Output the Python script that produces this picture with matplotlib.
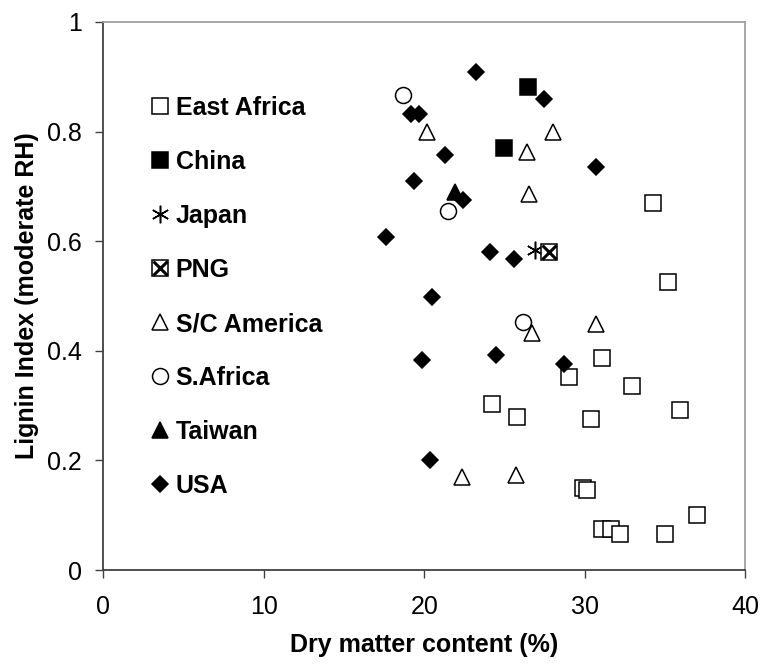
import matplotlib
matplotlib.use("Agg")
import matplotlib.pyplot as plt
from matplotlib.legend_handler import HandlerTuple

plt.rcParams['font.family'] = ['Liberation Sans', 'DejaVu Sans']

# Data (Dry matter content %, Lignin Index)
ea_x = [34.25, 35.2, 31.07, 29.0, 32.94, 24.24, 25.78, 30.38, 35.9, 29.89, 30.14, 31.05, 31.63, 32.19, 35.0, 37.0]
ea_y = [0.670, 0.526, 0.387, 0.352, 0.335, 0.303, 0.280, 0.275, 0.292, 0.150, 0.146, 0.075, 0.075, 0.065, 0.065, 0.100]
china_x = [26.44, 24.94]
china_y = [0.882, 0.770]
japan_x = [26.9]
japan_y = [0.584]
png_x = [27.79]
png_y = [0.580]
sca_x = [20.15, 28.04, 26.38, 26.52, 26.73, 30.67, 22.35, 25.73]
sca_y = [0.800, 0.800, 0.762, 0.686, 0.433, 0.449, 0.170, 0.174]
saf_x = [18.7, 21.5, 26.13]
saf_y = [0.867, 0.655, 0.453]
taiwan_x = [21.92]
taiwan_y = [0.689]
usa_x = [23.25, 27.46, 19.2, 19.65, 21.3, 19.38, 30.7, 22.4, 17.62, 24.1, 25.6, 20.5, 19.88, 24.49, 28.7, 20.36]
usa_y = [0.909, 0.859, 0.832, 0.832, 0.758, 0.709, 0.735, 0.675, 0.608, 0.580, 0.567, 0.498, 0.383, 0.392, 0.376, 0.200]

x_ticks = [0, 10, 20, 30, 40]
x_ticklabels = ['0', '10', '20', '30', '40']
y_ticks = [0, 0.2, 0.4, 0.6, 0.8, 1.0]
y_ticklabels = ['0', '0.2', '0.4', '0.6', '0.8', '1']

fig = plt.figure(figsize=(7.63, 6.66), dpi=100)
ax = fig.add_axes([0.135, 0.144, 0.842, 0.823])

ms = 11.5
lw = 1.1
h_ea, = ax.plot(ea_x, ea_y, 's', ms=ms, mfc='white', mec='black', mew=lw, ls='none', zorder=3)
h_ch, = ax.plot(china_x, china_y, 's', ms=ms, mfc='black', mec='black', mew=lw, ls='none', zorder=3)
h_jp, = ax.plot(japan_x, japan_y, marker=(6, 2, 0), ms=ms * 1.1, mfc='none', mec='black', mew=1.1, ls='none', zorder=3)
h_png1, = ax.plot(png_x, png_y, 's', ms=ms, mfc='white', mec='black', mew=lw, ls='none', zorder=3)
h_png2, = ax.plot(png_x, png_y, 'x', ms=ms * 0.9, mec='black', mew=2.2, ls='none', zorder=5)
h_sca, = ax.plot(sca_x, sca_y, '^', ms=ms, mfc='white', mec='black', mew=lw, ls='none', zorder=3)
h_saf, = ax.plot(saf_x, saf_y, 'o', ms=ms, mfc='white', mec='black', mew=lw, ls='none', zorder=3)
h_tw, = ax.plot(taiwan_x, taiwan_y, '^', ms=ms, mfc='black', mec='black', mew=lw, ls='none', zorder=3)
h_us, = ax.plot(usa_x, usa_y, 'D', ms=ms * 0.75, mfc='black', mec='black', mew=lw, ls='none', zorder=3)

ax.set_xlim(0, 40)
ax.set_ylim(0, 1)
ax.set_xticks(x_ticks)
ax.set_xticklabels(x_ticklabels)
ax.set_yticks(y_ticks)
ax.set_yticklabels(y_ticklabels)
ax.tick_params(axis='both', direction='out', length=6, width=1, labelsize=18, colors='black')
ax.tick_params(axis='x', pad=12)
ax.tick_params(axis='y', pad=9)
ax.tick_params(axis='both', color='#404040')

for s in ['left', 'bottom']:
    ax.spines[s].set_color('#404040')
    ax.spines[s].set_linewidth(1.3)
for s in ['top', 'right']:
    ax.spines[s].set_color('#a0a0a0')
    ax.spines[s].set_linewidth(1.3)

ax.set_xlabel('Dry matter content (%)', fontsize=18, fontweight='bold', labelpad=10)
ax.set_ylabel('Lignin Index (moderate RH)', fontsize=18, fontweight='bold', labelpad=6)

handles = [h_ea, h_ch, h_jp, (h_png1, h_png2), h_sca, h_saf, h_tw, h_us]
labels = ['East Africa', 'China', 'Japan', 'PNG', 'S/C America', 'S.Africa', 'Taiwan', 'USA']
leg = ax.legend(handles, labels, loc='upper left', bbox_to_anchor=(0.039, 0.906), frameon=False,
                handler_map={tuple: HandlerTuple(ndivide=1, pad=0)},
                handlelength=0.75, handletextpad=0.25, labelspacing=1.2,
                prop={'weight': 'bold', 'size': 18})

fig.savefig('out.png', dpi=100)
